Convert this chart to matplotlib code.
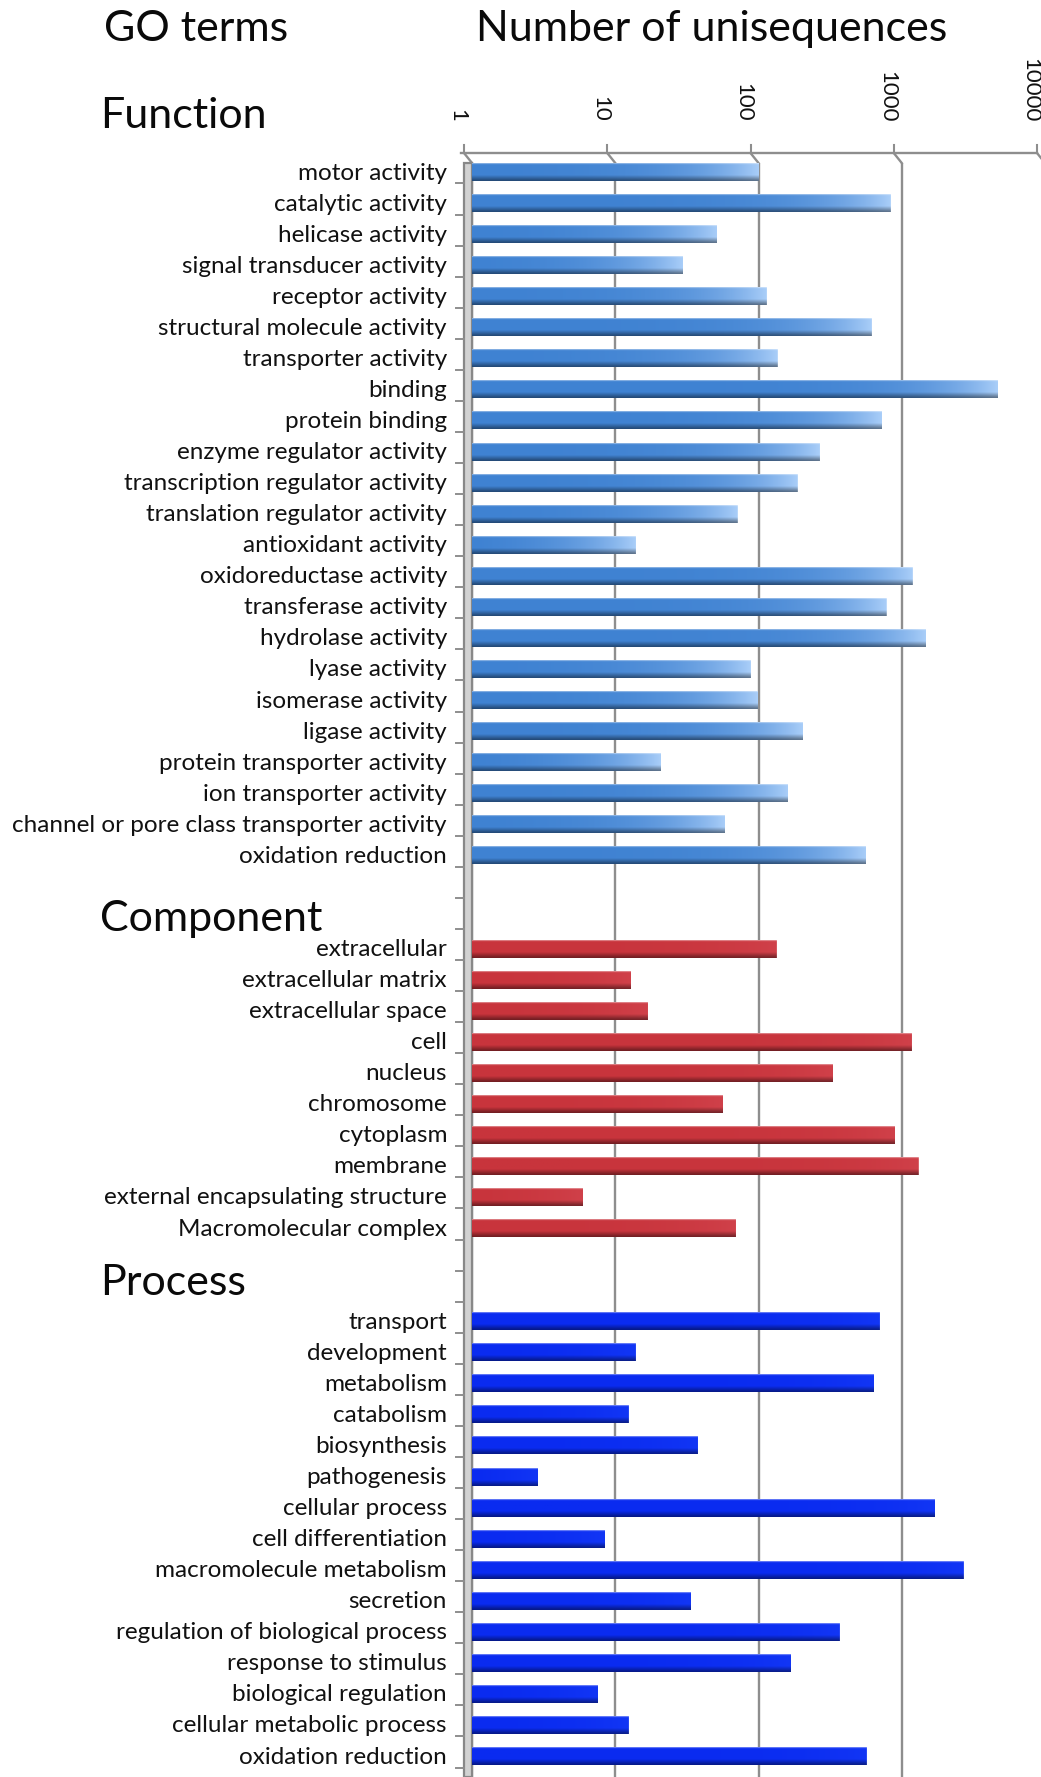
import numpy as np
import matplotlib
matplotlib.use("Agg")
import matplotlib.pyplot as plt
from matplotlib.patches import Rectangle

# ---------------- data ----------------
function_terms = ["motor activity", "catalytic activity", "helicase activity",
                  "signal transducer activity", "receptor activity",
                  "structural molecule activity", "transporter activity", "binding",
                  "protein binding", "enzyme regulator activity",
                  "transcription regulator activity", "translation regulator activity",
                  "antioxidant activity", "oxidoreductase activity", "transferase activity",
                  "hydrolase activity", "lyase activity", "isomerase activity",
                  "ligase activity", "protein transporter activity",
                  "ion transporter activity", "channel or pore class transporter activity",
                  "oxidation reduction"]
function_counts = [102, 844, 52, 30, 115, 622, 137, 4730, 737, 270, 189, 72, 14,
                   1201, 789, 1492, 89, 100, 207, 21, 162, 59, 570]

component_terms = ["extracellular", "extracellular matrix", "extracellular space", "cell",
                   "nucleus", "chromosome", "cytoplasm", "membrane",
                   "external encapsulating structure", "Macromolecular complex"]
component_counts = [135, 13, 17, 1185, 336, 57, 903, 1321, 6, 70]

process_terms = ["transport", "development", "metabolism", "catabolism", "biosynthesis",
                 "pathogenesis", "cellular process", "cell differentiation",
                 "macromolecule metabolism", "secretion",
                 "regulation of biological process", "response to stimulus",
                 "biological regulation", "cellular metabolic process",
                 "oxidation reduction"]
process_counts = [708, 14, 644, 12.5, 38, 2.9, 1733, 8.6, 2729, 34, 372, 170, 7.7,
                  12.5, 574]

section_titles = ["Function", "Component", "Process"]
tick_values = [1, 10, 100, 1000, 10000]
tick_labels = ["1", "10", "100", "1000", "10000"]
header_left = "GO terms"
header_right = "Number of unisequences"

# ---------------- layout ----------------
W, H = 1041, 1777
FONT = ["Lato", "DejaVu Sans"]
plt.rcParams["font.family"] = FONT

fig = plt.figure(figsize=(W / 100, H / 100), dpi=100)
X1 = 472.0          # pixel of value 1 (back plane)
DEC = 143.25        # pixels per decade
ROW0, DY = 172.0, 31.06
TOP = 140.0

ax = fig.add_axes([X1 / W, 0, 4 * DEC / W, 1 - TOP / H])
ax.set_xscale("log")
ax.set_xlim(1, 10000)


def prow(py):
    return (py - ROW0) / DY


r_top, r_bot = prow(TOP), prow(H)
ax.set_ylim(r_bot, r_top)
ax.axis("off")


def xs(x, px):
    return x * 10 ** (px / DEC)


grid_c = "#8e8e8e"
front_top, back_top = prow(153), prow(163)
tick_top = prow(145)

# back gridlines + perspective jogs + top edge
for t in tick_values:
    ax.plot([t, t], [back_top, r_bot], color=grid_c, lw=1.7, zorder=1,
            solid_capstyle="butt")
    ax.plot([xs(t, -8), t], [front_top, back_top], color=grid_c, lw=1.7,
            zorder=1, clip_on=False)
    ax.plot([xs(t, -8), xs(t, -8)], [tick_top, front_top], color=grid_c, lw=1.5,
            zorder=1, clip_on=False)
ax.plot([xs(1, -11), xs(10000, -8)], [front_top, front_top], color=grid_c, lw=1.7,
        zorder=1, clip_on=False)

# left wall
ax.add_patch(Rectangle((xs(1, -8), back_top), 1 - xs(1, -8), r_bot - back_top,
                       facecolor="#d2d2d2", edgecolor="#888888", lw=1.6, zorder=2,
                       clip_on=False))

# rows
rows_f = list(range(0, 23))
rows_c = list(range(25, 35))
rows_p = list(range(37, 52))

# left tick marks at row boundaries
for b in range(0, 52):
    yb = b + 0.37
    ax.plot([xs(1, -16), xs(1, -8)], [yb, yb], color=grid_c, lw=1.4,
            clip_on=False, zorder=2)


def bar_image(left_rgb, right_rgb, top_light=0.35, bottom_dark=0.42,
              nrow=30, ncol=160):
    left_rgb = np.array(left_rgb)
    right_rgb = np.array(right_rgb)
    t = np.linspace(0, 1, ncol)[None, :, None]
    base = left_rgb[None, None, :] * (1 - t) + right_rgb[None, None, :] * t
    v = np.linspace(0, 1, nrow)[:, None, None]
    img = np.repeat(base, nrow, axis=0).copy()
    top = v < 0.1
    img = np.where(top, img + (1 - img) * top_light, img)
    shade = np.clip((v - 0.7) / 0.3, 0, 1)
    img = img * (1 - bottom_dark * shade)
    cap = (np.linspace(0, 1, ncol) > 0.985)[None, :, None]
    img = np.where(cap, img + (1 - img) * 0.25, img)
    return np.clip(img, 0, 1)


def hexrgb(h):
    h = h.lstrip("#")
    return [int(h[i:i + 2], 16) / 255 for i in (0, 2, 4)]


styles = {
    "f": (hexrgb("#3f82d2"), hexrgb("#abcff9")),
    "c": (hexrgb("#c8343c"), hexrgb("#d0414a")),
    "p": (hexrgb("#0a2bf0"), hexrgb("#1236f5")),
}
BH = 0.58

for rows, counts, key in [(rows_f, function_counts, "f"),
                          (rows_c, component_counts, "c"),
                          (rows_p, process_counts, "p")]:
    img = bar_image(*styles[key])
    for r, v in zip(rows, counts):
        ax.imshow(img, extent=(1, v, r + BH / 2, r - BH / 2), aspect="auto",
                  interpolation="bilinear", zorder=3)

ax.set_xlim(1, 10000)
ax.set_ylim(r_bot, r_top)

# category labels
LAB_X = 447
for rows, terms in [(rows_f, function_terms), (rows_c, component_terms),
                    (rows_p, process_terms)]:
    for r, term in zip(rows, terms):
        fig.text(LAB_X / W, 1 - (ROW0 + DY * r + 7.5) / H, term, ha="right",
                 va="baseline", fontsize=17.5, color="#111111")

# section titles
for title, base_py in zip(section_titles, [128, 931, 1295]):
    fig.text(100 / W, 1 - base_py / H, title, ha="left", va="baseline",
             fontsize=31, color="#0a0a0a")

fig.text(104 / W, 1 - 41 / H, header_left, ha="left", va="baseline", fontsize=31,
         color="#0a0a0a")
fig.text(476 / W, 1 - 41 / H, header_right, ha="left", va="baseline", fontsize=31,
         color="#0a0a0a")

# tick labels (rotated, reading top to bottom)
for t, lab in zip(tick_values, tick_labels):
    ax.text(xs(t, -15), prow(122), lab, rotation=-90, ha="center", va="bottom",
            fontsize=16, color="#111111", clip_on=False)

fig.savefig("out.png", dpi=100, facecolor="white")
